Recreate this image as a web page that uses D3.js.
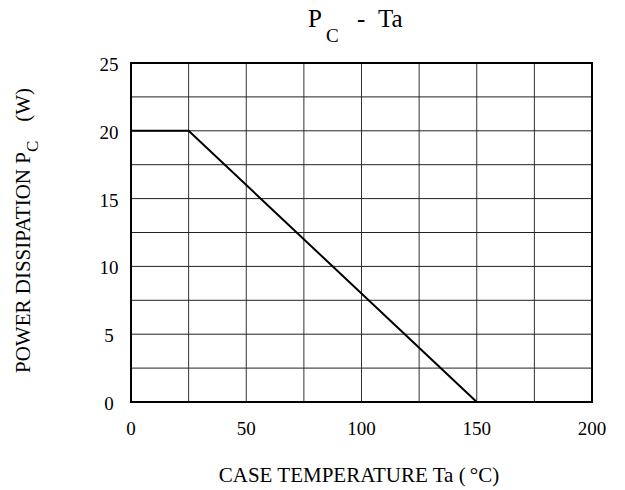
<!DOCTYPE html>
<html>
<head>
  <meta charset="utf-8">
  <script src="https://d3js.org/d3.v7.min.js"></script>
  <style>
    body { margin: 0; background: #fff; }
    text { font-family: "Liberation Serif", "Times New Roman", serif; fill: #000; }
  </style>
</head>
<body>
  <script>
    // derating curve
    var temps = [0, 25, 150];
    var power = [20, 20, 0];
    var xTicks = [0, 50, 100, 150, 200];
    var yTicks = [0, 5, 10, 15, 20, 25];
    var xGrid = [25, 50, 75, 100, 125, 150, 175];
    var yGrid = [2.5, 5, 7.5, 10, 12.5, 15, 17.5, 20, 22.5];

    var width = 625, height = 490;
    var plotL = 131, plotR = 592, plotT = 63, plotB = 402;

    var svg = d3.select("body").append("svg")
      .attr("width", width)
      .attr("height", height);

    var x = d3.scaleLinear().domain([0, 200]).range([plotL, plotR]);
    var y = d3.scaleLinear().domain([0, 25]).range([plotB, plotT]);

    // grid
    svg.selectAll(".vg").data(xGrid).enter().append("line")
      .attr("x1", d => x(d)).attr("x2", d => x(d))
      .attr("y1", plotT).attr("y2", plotB)
      .attr("stroke", "#333").attr("stroke-width", 1);

    svg.selectAll(".hg").data(yGrid).enter().append("line")
      .attr("x1", plotL).attr("x2", plotR)
      .attr("y1", d => y(d)).attr("y2", d => y(d))
      .attr("stroke", "#222").attr("stroke-width", 1);

    // frame
    svg.append("rect")
      .attr("x", plotL).attr("y", plotT)
      .attr("width", plotR - plotL).attr("height", plotB - plotT)
      .attr("fill", "none").attr("stroke", "#000").attr("stroke-width", 2);

    // curve
    var line = d3.line().x((d, i) => x(temps[i])).y(d => y(d));
    svg.append("path")
      .datum(power)
      .attr("d", line)
      .attr("fill", "none")
      .attr("stroke", "#000")
      .attr("stroke-width", 2);

    // tick labels
    svg.selectAll(".xt").data(xTicks).enter().append("text")
      .attr("x", d => x(d)).attr("y", 435)
      .attr("text-anchor", "middle")
      .style("font-size", "19px")
      .text(d => d);

    svg.selectAll(".yt").data(yTicks).enter().append("text")
      .attr("x", 109).attr("y", d => y(d) + 8)
      .attr("text-anchor", "middle")
      .style("font-size", "19px")
      .text(d => d);

    // title
    var t = svg.append("text")
      .attr("y", 27)
      .style("font-size", "25px");
    t.append("tspan").attr("x", 308).text("P");
    t.append("tspan").attr("x", 326).attr("dy", 15).style("font-size", "19px").text("C");
    t.append("tspan").attr("x", 357).attr("dy", -15).text("-");
    t.append("tspan").attr("x", 378).text("Ta");

    // axis titles
    svg.append("text")
      .attr("x", 359).attr("y", 482)
      .attr("text-anchor", "middle")
      .style("font-size", "21px")
      .text("CASE TEMPERATURE Ta (\u2009\u00B0C)");

    var yg = svg.append("g")
      .attr("transform", "translate(30,373) rotate(-90)");
    var yl = yg.append("text")
      .attr("x", 0).attr("y", 0)
      .style("font-size", "21px");
    yl.append("tspan").text("POWER DISSIPATION P");
    yl.append("tspan").attr("dy", 8).style("font-size", "17px").text("C");
    yg.append("text")
      .attr("x", 285).attr("y", 0)
      .attr("text-anchor", "end")
      .style("font-size", "21px")
      .text("(W)");
  </script>
</body>
</html>
